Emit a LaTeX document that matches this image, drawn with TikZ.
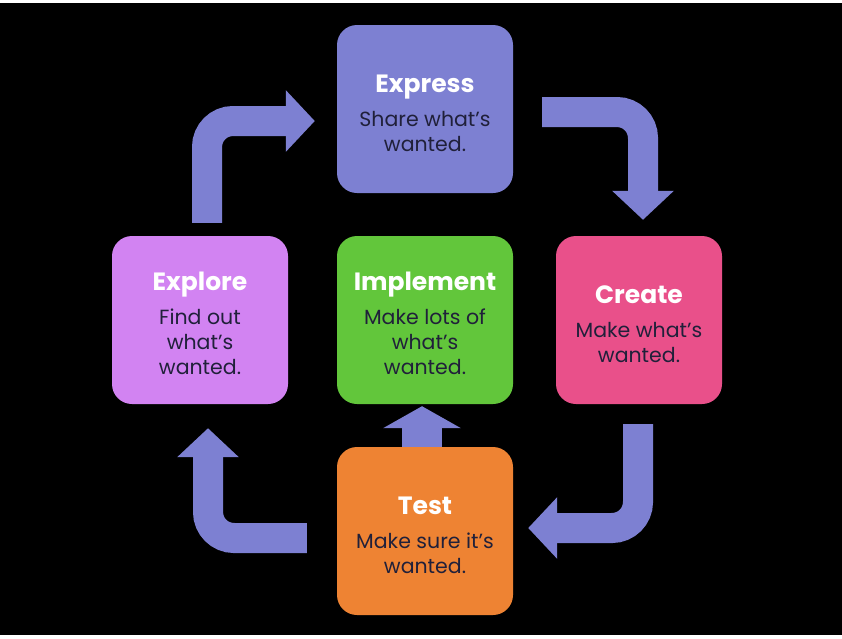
\documentclass[tikz,border=0pt]{standalone}
\usepackage{fontspec}
\setmainfont{Poppins}
\usetikzlibrary{
    arrows.meta,
    positioning
}
\definecolor{flowblue}{HTML}{7D80D2}
\definecolor{explorepink}{HTML}{D283F2}
\definecolor{implementgreen}{HTML}{62C63B}
\definecolor{createred}{HTML}{E9508A}
\definecolor{testorange}{HTML}{EE8333}
\definecolor{bodyink}{HTML}{20203A}
\newcommand\steptitle[1]{{\fontsize{25}{26}\selectfont\bfseries\color{white}\rule{0pt}{26pt}#1}\\[9pt]}

\begin{document}
\begin{tikzpicture}[node distance=211pt,
step node/.style={rounded corners=20pt,minimum width=176pt,minimum height=168pt,
  inner sep=0pt,align=center,text=bodyink,font=\fontsize{20.5}{25}\selectfont},
express node/.style={step node,fill=flowblue},
explore node/.style={step node,fill=explorepink},
implement node/.style={step node,fill=implementgreen},
create node/.style={step node,fill=createred,minimum width=166pt},
test node/.style={step node,fill=testorange},
flow/.style={draw=flowblue,line width=30pt,rounded corners=26pt,
  -{Triangle[length=29pt,width=60pt]}},
big flow/.style={draw=flowblue,line width=40pt,
  -{Triangle[length=22pt,width=77pt]}}]

%Frame
\fill[white] (0,0) rectangle (842pt,-638pt);
\fill[black] (0,-3pt) rectangle (842pt,-635pt);
\useasboundingbox (0,0) rectangle (842pt,-638pt);

%Steps
\node[express node] (express) at (425pt,-109pt) {\steptitle{Express}Share what’s\\wanted.};
\node[implement node] (implement) [below of=express] {\steptitle{Implement}Make lots of\\what’s\\wanted.};
\node[test node] (test) [below of=implement] {\steptitle{Test}Make sure it’s\\wanted.};
\node[explore node,node distance=225pt] (explore) [left of=implement] {\steptitle{Explore}Find out\\what’s\\wanted.};
\node[create node,node distance=214pt] (create) [right of=implement] {\steptitle{Create}Make what’s\\wanted.};

%Cycle
\draw[flow] ([xshift=7pt,yshift=13pt]explore.north) |- ([xshift=-22pt,yshift=-12pt]express.west);
\draw[flow] ([xshift=29pt,yshift=-3pt]express.east) -| ([xshift=4pt,yshift=16pt]create.north);
\draw[flow] ([xshift=-1pt,yshift=-20pt]create.south) |- ([xshift=15pt,yshift=3pt]test.east);
\draw[flow] ([xshift=-30pt,yshift=-7pt]test.west) -| ([xshift=8pt,yshift=-24pt]explore.south);
\draw[big flow] ([xshift=-3pt]test.north) -- ([xshift=-3pt,yshift=-2pt]implement.south);
\end{tikzpicture}
\end{document}
